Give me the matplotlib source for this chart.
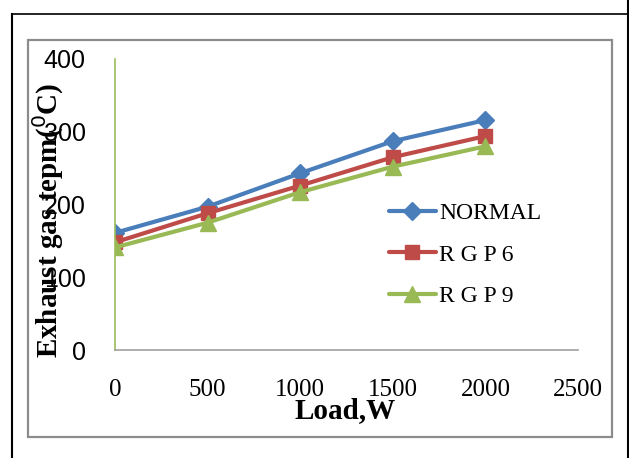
import matplotlib.pyplot as plt
from matplotlib.patches import Rectangle
from matplotlib.lines import Line2D

load = [0, 500, 1000, 1500, 2000]
normal = [161, 197, 243, 287, 316]
rgp6 = [148, 188, 226, 265, 294]
rgp9 = [141, 175, 217, 252, 280]

series = [
    ('NORMAL', normal, '#4a7ebb', 'D', 9),
    ('R G P 6', rgp6, '#be4b48', 's', 10),
    ('R G P 9', rgp9, '#98b954', '^', 11),
]

W, H = 629, 458
fig = plt.figure(figsize=(W / 100, H / 100), dpi=100)

# outer table lines (black) and chart box (gray)
def px(x, y):
    return x / W, 1 - y / H

fig.add_artist(Line2D([11.5 / W, 11.5 / W], [0, 1 - 14 / H], color='black', lw=1.5))
fig.add_artist(Line2D([11.5 / W, 1], [1 - 14 / H, 1 - 14 / H], color='black', lw=1.2))
fig.add_artist(Line2D([627.5 / W, 627.5 / W], [0, 1], color='black', lw=1.5))
x0, y0 = px(28, 437)
x1, y1 = px(612, 40)
fig.add_artist(Rectangle((x0, y0), x1 - x0, y1 - y0, transform=fig.transFigure,
                         fill=False, ec='#8c8c8c', lw=1.6))

l, r = 115 / W, 578 / W
b, t = 1 - 350 / H, 1 - 59 / H
ax = fig.add_axes([l, b, r - l, t - b])

for name, vals, col, mk, ms in series:
    ax.plot(load, vals, color=col, lw=3, marker=mk, markersize=ms, label=name,
            solid_capstyle='round')

ax.set_xlim(0, 2500)
ax.set_ylim(0, 400)
ax.set_xticks([0, 500, 1000, 1500, 2000, 2500])
ax.set_yticks([0, 100, 200, 300, 400])
for s in ['top', 'right']:
    ax.spines[s].set_visible(False)
ax.spines['left'].set_color('#9bbb59')
ax.spines['bottom'].set_color('#a0a0a0')
ax.spines['left'].set_linewidth(1.2)
ax.spines['bottom'].set_linewidth(1.2)
ax.tick_params(length=0)
ax.tick_params(axis='y', pad=21)
ax.tick_params(axis='x', pad=21)
for lab in ax.get_yticklabels():
    lab.set_fontfamily('Liberation Sans')
    lab.set_fontsize(18)
for lab in ax.get_xticklabels():
    lab.set_fontfamily('Liberation Serif')
    lab.set_fontsize(18)

fig.text(345 / W, 1 - 411 / H, 'Load,W', ha='center', va='center',
         family='Liberation Serif', weight='bold', fontsize=21)
fig.text(48 / W, 1 - 220 / H, 'Exhaust gas tepm($^{0}$C)', ha='center', va='center',
         rotation=90, family='Liberation Serif', weight='bold', fontsize=21)

leg = ax.legend(loc='upper left', bbox_to_anchor=(0.545, 0.58), frameon=False,
                prop={'family': 'Liberation Serif', 'size': 17},
                handlelength=2.0, handletextpad=0.15, labelspacing=0.85)

fig.savefig('out.png', dpi=100)
